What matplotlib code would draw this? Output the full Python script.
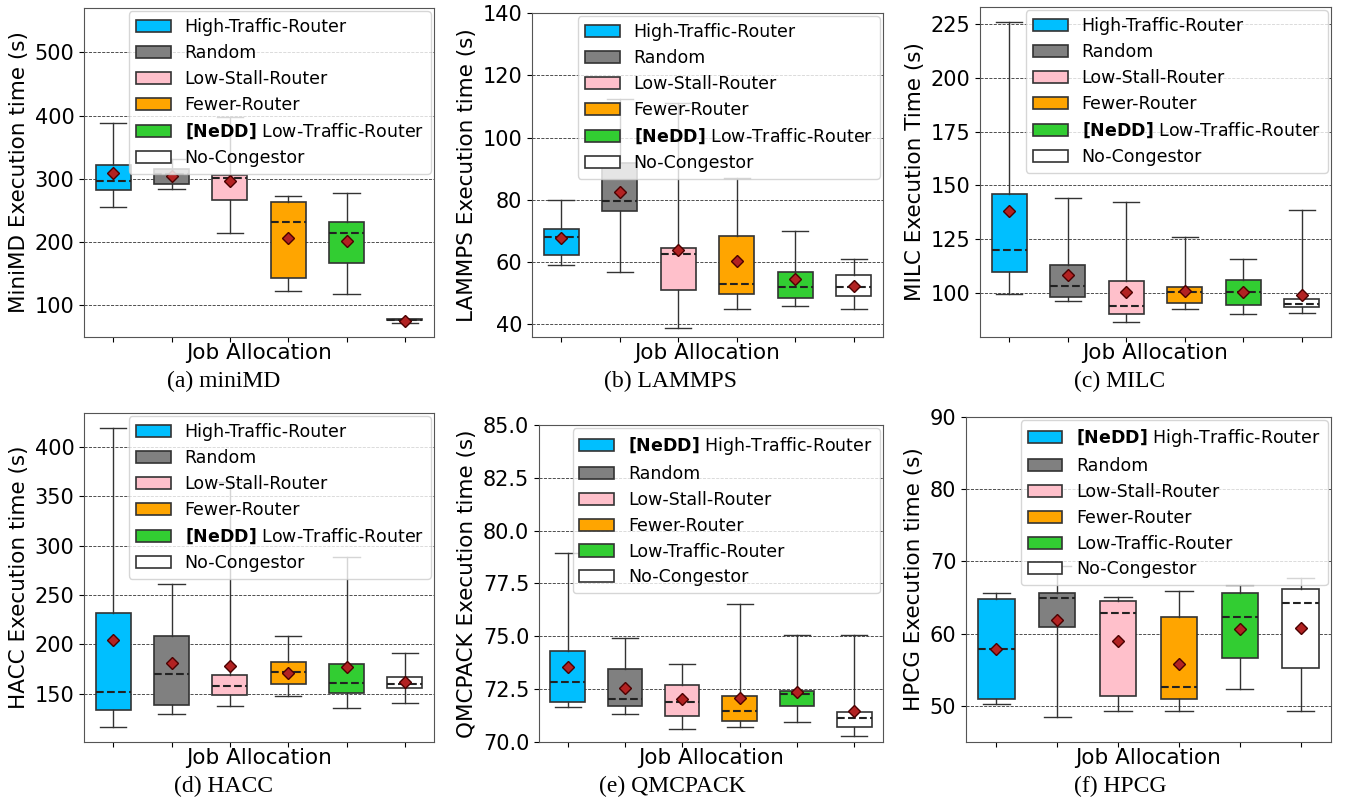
import matplotlib
matplotlib.use("Agg")
import matplotlib.pyplot as plt
from matplotlib.patches import Patch
from matplotlib.ticker import FormatStrFormatter

plt.rcParams['mathtext.fontset'] = 'dejavusans'

# box colours, same order in every panel
colors = ['#00BFFF', '#808080', '#FFC0CB', '#FFA500', '#32CD32', '#FFFFFF']
names = ['High-Traffic-Router', 'Random', 'Low-Stall-Router', 'Fewer-Router',
         'Low-Traffic-Router', 'No-Congestor']

# (a) miniMD
minimd_low = [255, 283.5, 214, 122.5, 117.5, 72.5]
minimd_q1 = [282, 292, 266.5, 143, 167.5, 76.5]
minimd_med = [297, 308, 300.5, 231, 214, 77.5]
minimd_q3 = [322, 315, 305.5, 264, 231, 78]
minimd_high = [388, 331, 398, 272, 278, 78.5]
minimd_mean = [309, 305, 296, 206, 202, 76]

# (b) LAMMPS
lammps_low = [59, 57, 39, 45, 46, 45]
lammps_q1 = [62.3, 76.3, 51, 49.9, 48.5, 49.1]
lammps_med = [68.2, 79.5, 62.5, 53, 52, 52.1]
lammps_q3 = [70.5, 91.9, 64.4, 68.5, 56.8, 55.8]
lammps_high = [80, 112.5, 111.2, 87, 70.1, 61]
lammps_mean = [67.8, 82.5, 64, 60.4, 54.7, 52.3]

# (c) MILC
milc_low = [99.7, 96.1, 86.3, 92.5, 90.3, 90.8]
milc_q1 = [109.5, 98, 90, 95.5, 94.2, 93.3]
milc_med = [120.1, 103.4, 94.1, 100.3, 100.2, 94.7]
milc_q3 = [146.2, 113.2, 105.6, 102.8, 106.2, 97.2]
milc_high = [225.8, 144, 142.2, 125.8, 115.6, 138.6]
milc_mean = [138.3, 108.1, 100.3, 101.1, 100.6, 99.1]

# (d) HACC
hacc_low = [115.8, 129.3, 137.5, 147.3, 135.8, 140.9]
hacc_q1 = [133.7, 138.5, 149, 159.8, 150.7, 155.4]
hacc_med = [151.4, 170, 157.5, 171.7, 160.5, 159.5]
hacc_q3 = [231.6, 208.3, 168.6, 182.2, 180.2, 167]
hacc_high = [419.3, 260.8, 364, 208.3, 288.5, 191.3]
hacc_mean = [204.5, 181, 177.8, 171.3, 176.8, 161.5]

# (e) QMCPACK
qmc_low = [71.66, 71.3, 70.6, 70.69, 70.95, 70.28]
qmc_q1 = [71.9, 71.72, 71.25, 70.98, 71.7, 70.69]
qmc_med = [72.84, 72.02, 71.9, 71.47, 72.26, 71.14]
qmc_q3 = [74.3, 73.43, 72.7, 72.16, 72.4, 71.44]
qmc_high = [78.95, 74.9, 73.71, 76.52, 75.08, 75.05]
qmc_mean = [73.54, 72.57, 72.02, 72.08, 72.37, 71.48]

# (f) HPCG
hpcg_low = [50.3, 48.5, 49.35, 49.35, 52.3, 49.35]
hpcg_q1 = [50.97, 60.87, 51.34, 50.88, 56.66, 55.18]
hpcg_med = [57.9, 64.9, 62.86, 52.64, 62.3, 64.29]
hpcg_q3 = [64.8, 65.68, 64.57, 62.35, 65.58, 66.14]
hpcg_high = [65.58, 69.3, 65.03, 65.9, 66.7, 67.76]
hpcg_mean = [57.9, 61.84, 58.92, 55.73, 60.64, 60.78]

NEDD = r'$\mathbf{[NeDD]}$ '


def make_stats(low, q1, med, q3, high, mean):
    out = []
    for i in range(len(low)):
        out.append({'whislo': low[i], 'q1': q1[i], 'med': med[i], 'q3': q3[i],
                    'whishi': high[i], 'mean': mean[i], 'fliers': []})
    return out


def draw_panel(rect, stats, ylabel, ylim, yticks, caption, cap_x, cap_y, nedd_idx, fmt=None):
    ax = fig.add_axes(rect)
    bp = ax.bxp(stats, positions=range(1, 7), widths=0.6, patch_artist=True,
                showmeans=True, capwidths=0.45,
                boxprops=dict(edgecolor='#333333', linewidth=1.2),
                whiskerprops=dict(color='#333333', linewidth=1.0),
                capprops=dict(color='#333333', linewidth=1.0),
                medianprops=dict(color='#222222', linestyle='--', linewidth=1.5),
                meanprops=dict(marker='D', markerfacecolor='#B22222',
                               markeredgecolor='#4a0000', markersize=6.5))
    for patch, c in zip(bp['boxes'], colors):
        patch.set_facecolor(c)
    ax.set_xlim(0.5, 6.5)
    ax.set_ylim(*ylim)
    ax.set_yticks(yticks)
    if fmt:
        ax.yaxis.set_major_formatter(FormatStrFormatter(fmt))
    ax.set_xticks(range(1, 7))
    ax.set_xticklabels([])
    ax.tick_params(axis='y', labelsize=15)
    ax.set_axisbelow(True)
    ax.yaxis.grid(True, linestyle='--', color='black', linewidth=0.6, alpha=0.8)
    for s in ax.spines.values():
        s.set_edgecolor('#555555')
    ax.set_ylabel(ylabel, fontsize=15.5)
    ax.set_xlabel('Job Allocation', fontsize=15.5, labelpad=-3)

    labels = list(names)
    labels[nedd_idx] = NEDD + labels[nedd_idx]
    handles = [Patch(facecolor=c, edgecolor='#333333', linewidth=1.2) for c in colors]
    ax.legend(handles, labels, loc='upper right', bbox_to_anchor=(1.0, 1.0),
              fontsize=12.5, handlelength=2.0, handleheight=0.7,
              handletextpad=0.8, labelspacing=0.45, borderpad=0.4,
              borderaxespad=0.2, framealpha=0.8, fancybox=True)

    fig.text(cap_x, cap_y, caption, ha='center', va='center',
             family='Liberation Serif', fontsize=17)
    return ax


fig = plt.figure(figsize=(13.45, 8.1), dpi=100)

draw_panel([0.0625, 0.584, 0.2602, 0.4062],
           make_stats(minimd_low, minimd_q1, minimd_med, minimd_q3, minimd_high, minimd_mean),
           'MiniMD Execution time (s)', (50, 570), [100, 200, 300, 400, 500],
           '(a) miniMD', 224 / 1345, 1 - 381 / 810, 4)
draw_panel([0.3955, 0.584, 0.261, 0.4],
           make_stats(lammps_low, lammps_q1, lammps_med, lammps_q3, lammps_high, lammps_mean),
           'LAMMPS Execution time (s)', (36, 140), [40, 60, 80, 100, 120, 140],
           '(b) LAMMPS', 671 / 1345, 1 - 381 / 810, 4)
draw_panel([0.7286, 0.584, 0.261, 0.4074],
           make_stats(milc_low, milc_q1, milc_med, milc_q3, milc_high, milc_mean),
           'MILC Execution Time (s)', (79.5, 233), [100, 125, 150, 175, 200, 225],
           '(c) MILC', 1120 / 1345, 1 - 381 / 810, 4)
draw_panel([0.0625, 0.084, 0.2602, 0.4062],
           make_stats(hacc_low, hacc_q1, hacc_med, hacc_q3, hacc_high, hacc_mean),
           'HACC Execution time (s)', (101, 434.5), [150, 200, 250, 300, 350, 400],
           '(d) HACC', 224 / 1345, 1 - 786 / 810, 4)
draw_panel([0.4007, 0.084, 0.2558, 0.3914],
           make_stats(qmc_low, qmc_q1, qmc_med, qmc_q3, qmc_high, qmc_mean),
           'QMCPACK Execution time (s)', (70, 85), [70, 72.5, 75, 77.5, 80, 82.5, 85],
           '(e) QMCPACK', 672 / 1345, 1 - 786 / 810, 0, fmt='%.1f')
draw_panel([0.7182, 0.084, 0.2714, 0.4012],
           make_stats(hpcg_low, hpcg_q1, hpcg_med, hpcg_q3, hpcg_high, hpcg_mean),
           'HPCG Execution time (s)', (45, 90), [50, 60, 70, 80, 90],
           '(f) HPCG', 1120 / 1345, 1 - 786 / 810, 0)

fig.savefig('out.png', dpi=100)
